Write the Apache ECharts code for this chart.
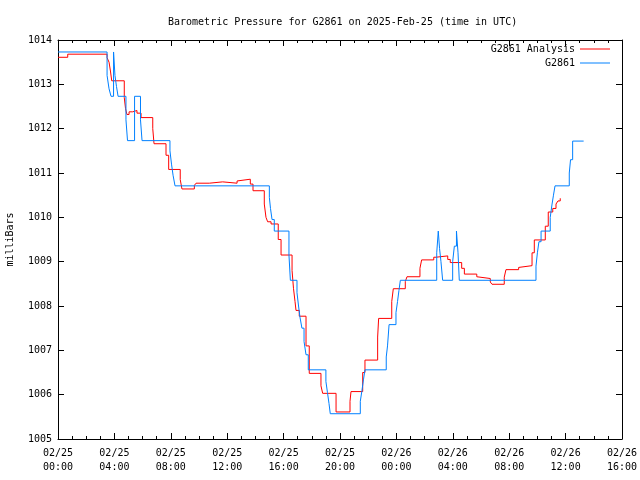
<!DOCTYPE html>
<html>
<head>
<meta charset="utf-8">
<script src="https://cdn.jsdelivr.net/npm/echarts@6/dist/echarts.min.js"></script>
<style>html,body{margin:0;padding:0;background:#fff}#c{width:640px;height:480px}</style>
</head>
<body>
<div id="c"></div>
<script>
// Hours since 2025-02-25 00:00 UTC
var xTickDays = ['02/25','02/25','02/25','02/25','02/25','02/25','02/26','02/26','02/26','02/26','02/26'];
var xTickTimes = ['00:00','04:00','08:00','12:00','16:00','20:00','00:00','04:00','08:00','12:00','16:00'];

var obsHours = [0,3.48,3.62,3.76,3.94,4.04,4.15,4.26,4.82,4.93,5.43,5.85,5.96,7.94,8.05,8.16,8.3,
  14.99,15.07,15.18,15.34,16.38,16.48,16.95,17.06,17.16,17.3,17.45,17.59,17.75,19.0,19.11,19.22,19.31,
  21.44,21.56,21.67,21.77,23.28,23.37,23.48,23.97,24.08,24.18,24.28,26.86,26.97,27.06,27.16,27.28,
  27.99,28.11,28.26,28.37,28.46,33.9,34.0,34.11,34.26,34.91,35.04,35.14,35.25,36.26,36.35,36.5,37.28];
var obsValues = [1013.73,1013.2,1012.9,1012.73,1013.73,1013.2,1012.95,1012.73,1012.2,1011.73,1012.73,1012.2,1011.73,1011.5,1011.2,1010.95,1010.71,
  1010.45,1010.2,1009.95,1009.69,1009.15,1008.58,1008.3,1008.0,1007.75,1007.5,1007.2,1006.9,1006.56,1006.3,1006.05,1005.8,1005.57,
  1005.85,1006.1,1006.35,1006.56,1006.85,1007.1,1007.58,1007.85,1008.1,1008.35,1008.58,1009.2,1009.69,1009.3,1009.0,1008.58,
  1009.0,1009.35,1009.69,1009.2,1008.58,1008.9,1009.2,1009.45,1009.69,1010.0,1010.3,1010.5,1010.71,1011.0,1011.3,1011.72,1011.72];

var anaHours = [0,0.69,3.48,3.62,3.72,3.81,4.70,4.79,4.89,5.04,5.3,5.6,5.89,6.72,6.81,7.66,7.85,8.67,8.79,
  9.67,9.79,10.73,11.68,12.70,12.84,13.64,13.83,14.63,14.75,14.87,15.11,15.62,15.82,16.6,16.7,16.81,16.88,
  17.11,17.59,17.82,18.65,18.77,19.72,20.71,20.78,21.61,21.77,22.67,22.74,23.67,23.78,24.63,24.75,25.67,25.79,
  26.65,26.81,27.64,27.82,28.63,28.82,29.7,29.81,30.66,30.78,31.65,31.77,32.67,32.77,33.62,33.78,34.56,34.77,
  35.09,35.32,35.46,35.62];
var anaValues = [1013.61,1013.68,1013.6,1013.5,1013.3,1013.08,1012.7,1012.45,1012.32,1012.38,1012.41,1012.35,1012.25,1012.0,1011.66,1011.4,1011.08,1010.85,1010.64,
  1010.72,1010.77,1010.8,1010.77,1010.82,1010.86,1010.75,1010.6,1010.3,1010.0,1009.9,1009.85,1009.5,1009.15,1008.8,1008.4,1008.1,1007.9,
  1007.77,1007.1,1006.48,1006.2,1006.03,1005.61,1005.85,1006.07,1006.5,1006.78,1007.3,1007.72,1008.1,1008.39,1008.55,1008.66,1008.85,1009.04,
  1009.1,1009.13,1009.05,1008.98,1008.85,1008.72,1008.66,1008.62,1008.54,1008.49,1008.65,1008.82,1008.87,1008.91,1009.2,1009.49,1009.8,1010.12,
  1010.2,1010.3,1010.37,1010.43];

function pairs(xs, ys){ return xs.map(function(x,i){ return [x, ys[i]]; }); }

var FONT = 'DejaVu Sans Mono';
var chart = echarts.init(document.getElementById('c'), null, {renderer:'canvas'});
var axisCommon = {
  type:'value',
  axisLine:{show:true, onZero:false, lineStyle:{color:'#000', width:1}},
  axisTick:{show:true, inside:true, length:6, lineStyle:{color:'#000'}},
  splitLine:{show:false}
};
function xAx(pos, showLabel){
  return Object.assign({}, axisCommon, {
    position:pos, min:0, max:40, interval:4,
    minorTick:{show:true, splitNumber:4, length:3, lineStyle:{color:'#000'}},
    axisLabel:{show:showLabel, color:'#000', fontFamily:FONT, fontSize:10, lineHeight:14, margin:7,
      formatter:function(v){ var i=Math.round(v/4); return xTickDays[i]+'\n'+xTickTimes[i]; }}
  });
}
function yAx(pos, showLabel){
  return Object.assign({}, axisCommon, {
    position:pos, min:1005, max:1014, interval:1,
    name: showLabel ? 'milliBars' : '', nameLocation:'middle', nameGap:43, nameRotate:90,
    nameTextStyle:{color:'#000', fontFamily:FONT, fontSize:10},
    axisLabel:{show:showLabel, color:'#000', fontFamily:FONT, fontSize:10, margin:6,
      formatter:function(v){ return String(Math.round(v)); }}
  });
}
chart.setOption({
  animation:false,
  backgroundColor:'#fff',
  title:{text:'Barometric Pressure for G2861 on 2025-Feb-25 (time in UTC)', left:163, top:12,
    textStyle:{color:'#000', fontFamily:FONT, fontSize:10, fontWeight:'normal'}},
  legend:{right:30, top:43, orient:'vertical', align:'right', icon:'rect', itemWidth:30, itemHeight:1,
    itemGap:2, textStyle:{color:'#000', fontFamily:FONT, fontSize:10, lineHeight:12}, padding:0,
    data:['G2861 Analysis','G2861']},
  grid:{left:58, right:18, top:40, bottom:41, containLabel:false, outerBoundsMode:'none'},
  xAxis:[xAx('bottom', true), xAx('top', false)],
  yAxis:[yAx('left', true), yAx('right', false)],
  series:[
    {name:'G2861 Analysis', type:'line', step:'end', data:pairs(anaHours, anaValues), showSymbol:false,
      symbol:'none', color:'#ff0000', lineStyle:{width:1, color:'#ff0000'}},
    {name:'G2861', type:'line', step:'end', data:pairs(obsHours, obsValues), showSymbol:false,
      symbol:'none', color:'#0080ff', lineStyle:{width:1, color:'#0080ff'}}
  ]
});
</script>
</body>
</html>
